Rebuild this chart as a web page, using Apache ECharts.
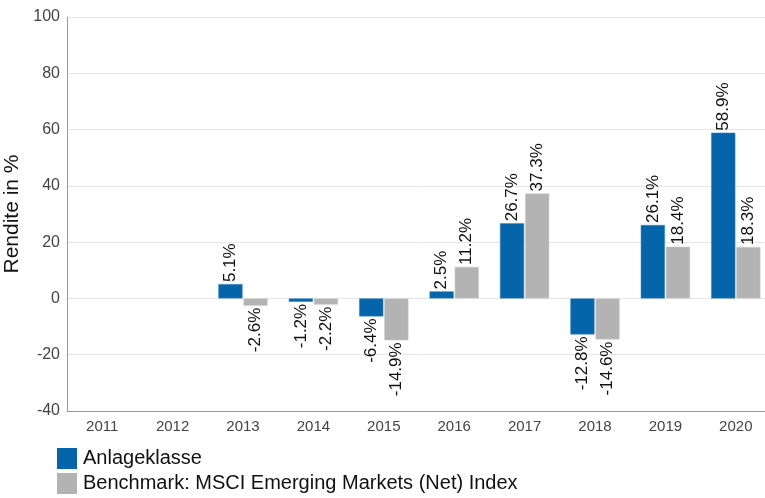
<!DOCTYPE html>
<html><head><meta charset="utf-8">
<script src="https://cdn.jsdelivr.net/npm/echarts@6/dist/echarts.min.js"></script>
<style>html,body{margin:0;padding:0;background:#fff}#c{width:765px;height:498px}</style>
</head><body><div id="c"></div>
<script>
const categories = ['2011','2012','2013','2014','2015','2016','2017','2018','2019','2020'];
const anlageklasse = [null,null,5.1,-1.2,-6.4,2.5,26.7,-12.8,26.1,58.9];
const benchmark = [null,null,-2.6,-2.2,-14.9,11.2,37.3,-14.6,18.4,18.3];
const seriesNames = ['Anlageklasse','Benchmark: MSCI Emerging Markets (Net) Index'];
const yTicks = {min:-40, max:100, interval:20};

function toData(arr){
  return arr.map(v => v === null ? null : {
    value: v,
    label: {align: v >= 0 ? 'left' : 'right'}
  });
}
const fontFamily = '"Liberation Sans", Arial, sans-serif';
const labelCfg = {
  show: true, position: 'outside', rotate: 90, distance: 2,
  verticalAlign: 'middle', fontSize: 17, color: '#111', fontFamily,
  formatter: p => p.value.toFixed(1) + '%'
};
const chart = echarts.init(document.getElementById('c'), null, {renderer:'canvas'});
chart.setOption({
  animation: false,
  grid: {left: 67, right: -6, top: 17, bottom: 87, containLabel: false, outerBoundsMode: 'none'},
  legend: {
    orient: 'vertical', left: 57, top: 448, padding: 0, itemWidth: 20, itemHeight: 21, itemGap: 4,
    icon: 'rect', itemStyle: {borderWidth: 0},
    textStyle: {fontSize: 20, color: '#111', fontFamily, padding:[0,0,0,1]},
    data: seriesNames
  },
  xAxis: {
    type: 'category', data: categories,
    axisLine: {onZero: false, lineStyle: {color: '#999'}},
    axisTick: {show: false},
    axisLabel: {fontSize: 15, color: '#444', fontFamily, margin: 8}
  },
  yAxis: {
    type: 'value', min: yTicks.min, max: yTicks.max, interval: yTicks.interval,
    name: 'Rendite in %', nameLocation: 'middle', nameGap: 42,
    nameTextStyle: {fontSize: 21, color: '#111', fontFamily},
    axisLine: {show: true, lineStyle: {color: '#999'}},
    axisTick: {show: false},
    axisLabel: {fontSize: 16, color: '#444', fontFamily, margin: 7},
    splitLine: {lineStyle: {color: '#e6e6e6'}}
  },
  series: [
    {name: seriesNames[0], type: 'bar', data: toData(anlageklasse), barGap: '4%', barCategoryGap: '30%',
     itemStyle: {color: '#0465aa', borderColor: '#3a86c0', borderWidth: 0.5}, label: labelCfg},
    {name: seriesNames[1], type: 'bar', data: toData(benchmark),
     itemStyle: {color: '#b3b3b3', borderColor: '#d0d0d0', borderWidth: 0.5}, label: labelCfg}
  ]
});
</script></body></html>
